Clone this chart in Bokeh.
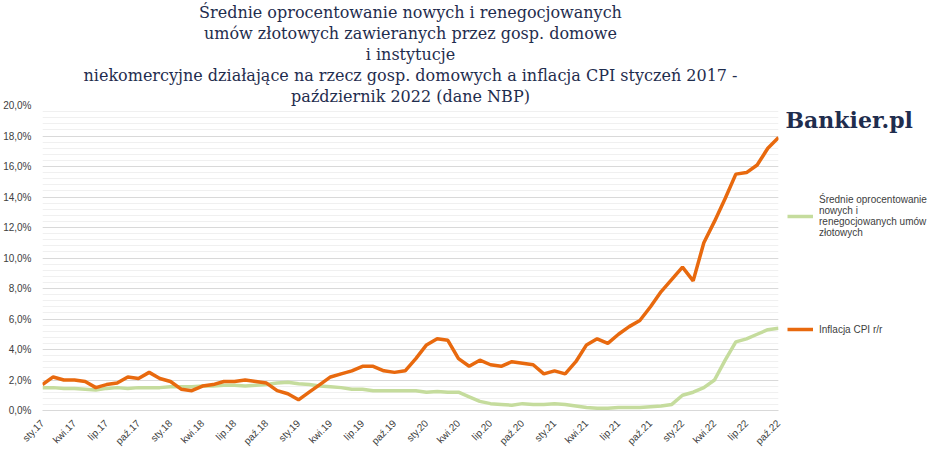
from bokeh.plotting import figure
from bokeh.layouts import row
from bokeh.models import (Legend, LegendItem, FixedTicker, Label, CustomJSTickFormatter, Range1d, Title)
from bokeh.embed import file_html
from bokeh.resources import INLINE

months = ["sty", "lut", "mar", "kwi", "maj", "cze", "lip", "sie", "wrz", "paź", "lis", "gru"]
labels = [f"{m}.{y}" for y in range(17, 23) for m in months][:70]

cpi = [1.7, 2.2, 2.0, 2.0, 1.9, 1.5, 1.7, 1.8, 2.2, 2.1, 2.5, 2.1,
       1.9, 1.4, 1.3, 1.6, 1.7, 1.9, 1.9, 2.0, 1.9, 1.8, 1.3, 1.1,
       0.7, 1.2, 1.7, 2.2, 2.4, 2.6, 2.9, 2.9, 2.6, 2.5, 2.6, 3.4,
       4.3, 4.7, 4.6, 3.4, 2.9, 3.3, 3.0, 2.9, 3.2, 3.1, 3.0, 2.4,
       2.6, 2.4, 3.2, 4.3, 4.7, 4.4, 5.0, 5.5, 5.9, 6.8, 7.8, 8.6,
       9.4, 8.5, 11.0, 12.4, 13.9, 15.5, 15.6, 16.1, 17.2, 17.9]
rate = [1.5, 1.5, 1.45, 1.45, 1.4, 1.35, 1.45, 1.5, 1.45, 1.5, 1.5, 1.5,
        1.55, 1.55, 1.55, 1.6, 1.6, 1.65, 1.65, 1.6, 1.65, 1.7, 1.8, 1.85,
        1.75, 1.7, 1.6, 1.55, 1.5, 1.4, 1.4, 1.3, 1.3, 1.3, 1.3, 1.3,
        1.2, 1.25, 1.2, 1.2, 0.9, 0.6, 0.45, 0.4, 0.35, 0.45, 0.4, 0.4,
        0.45, 0.4, 0.3, 0.2, 0.15, 0.15, 0.2, 0.2, 0.2, 0.25, 0.3, 0.4,
        1.0, 1.2, 1.5, 2.0, 3.3, 4.5, 4.7, 5.0, 5.3, 5.4]

series_names = ["Średnie oprocentowanie\nnowych i\nrenegocjowanych umów\nzłotowych", "Inflacja CPI r/r"]
colors = ["#c5dc9d", "#e8690e"]
title_lines = ["Średnie oprocentowanie nowych i renegocjowanych",
               "umów złotowych zawieranych przez gosp. domowe",
               "i instytucje",
               "niekomercyjne działające na rzecz gosp. domowych a inflacja CPI styczeń 2017 -",
               "październik 2022 (dane NBP)"]

x = list(range(len(cpi)))
p = figure(width=782, height=453, output_backend="svg", toolbar_location=None,
           x_range=Range1d(0, 69), y_range=Range1d(0, 20),
           min_border_left=8, min_border_right=4, min_border_top=8, min_border_bottom=5)
p.title = None

p.line(x, rate, line_color=colors[0], line_width=3.5)
p.line(x, cpi, line_color=colors[1], line_width=3.5)

p.xaxis.ticker = FixedTicker(ticks=list(range(0, 70, 3)))
p.xaxis.major_label_overrides = {i: labels[i] for i in range(0, 70, 3)}
p.xaxis.major_label_orientation = 0.7854
p.yaxis.ticker = FixedTicker(ticks=[i * 2 for i in range(11)],
                             minor_ticks=[round(i * 0.4, 1) for i in range(51)])
p.yaxis.formatter = CustomJSTickFormatter(code="return tick.toFixed(1).replace('.', ',') + '%';")
for ax in (p.xaxis, p.yaxis):
    ax.major_label_text_font_size = "10px"
    ax.major_label_text_color = "#404040"
    ax.major_label_text_font = "Liberation Sans"
    ax.axis_line_color = "#d9d9d9"
    ax.major_tick_line_color = None
    ax.minor_tick_line_color = None
p.yaxis.axis_line_color = None
p.xgrid.grid_line_color = None
p.ygrid.grid_line_color = "#d9d9d9"
p.ygrid.minor_grid_line_color = "#f0f0f0"
p.outline_line_color = None

for t in reversed(title_lines):
    p.add_layout(Title(text=t, align="center", text_font="DejaVu Serif", text_font_size="16px",
                       text_font_style="normal", text_color="#1f2d4e", standoff=0), "above")

# side panel for legend and logo
s = figure(width=150, height=453, output_backend="svg", toolbar_location=None,
           x_range=Range1d(0, 1), y_range=Range1d(0, 1),
           min_border_left=0, min_border_right=0, min_border_top=0, min_border_bottom=0)
s.axis.visible = False
s.grid.visible = False
s.outline_line_color = None
s.title = None
lg = s.line([-2, -1], [-2, -2], line_color=colors[0], line_width=3.5)
lo = s.line([-2, -1], [-3, -3], line_color=colors[1], line_width=3.5)
common = dict(label_text_font_size="10px", label_text_color="#404040", border_line_color=None,
              glyph_width=26, label_text_font="Liberation Sans", padding=0, margin=0,
              background_fill_alpha=0, label_standoff=6)
s.add_layout(Legend(items=[LegendItem(label=series_names[0], renderers=[lg])],
                    location=(5, 172), **common))
s.add_layout(Legend(items=[LegendItem(label=series_names[1], renderers=[lo])],
                    location=(5, 71), **common))
s.add_layout(Label(x=0.02, y=0.995, text="Bankier.pl", text_baseline="top",
                   text_font="DejaVu Serif", text_font_style="bold", text_font_size="22px",
                   text_color="#1f2d4e"))

open("out.html", "w").write(file_html(row(p, s, spacing=0), INLINE))
